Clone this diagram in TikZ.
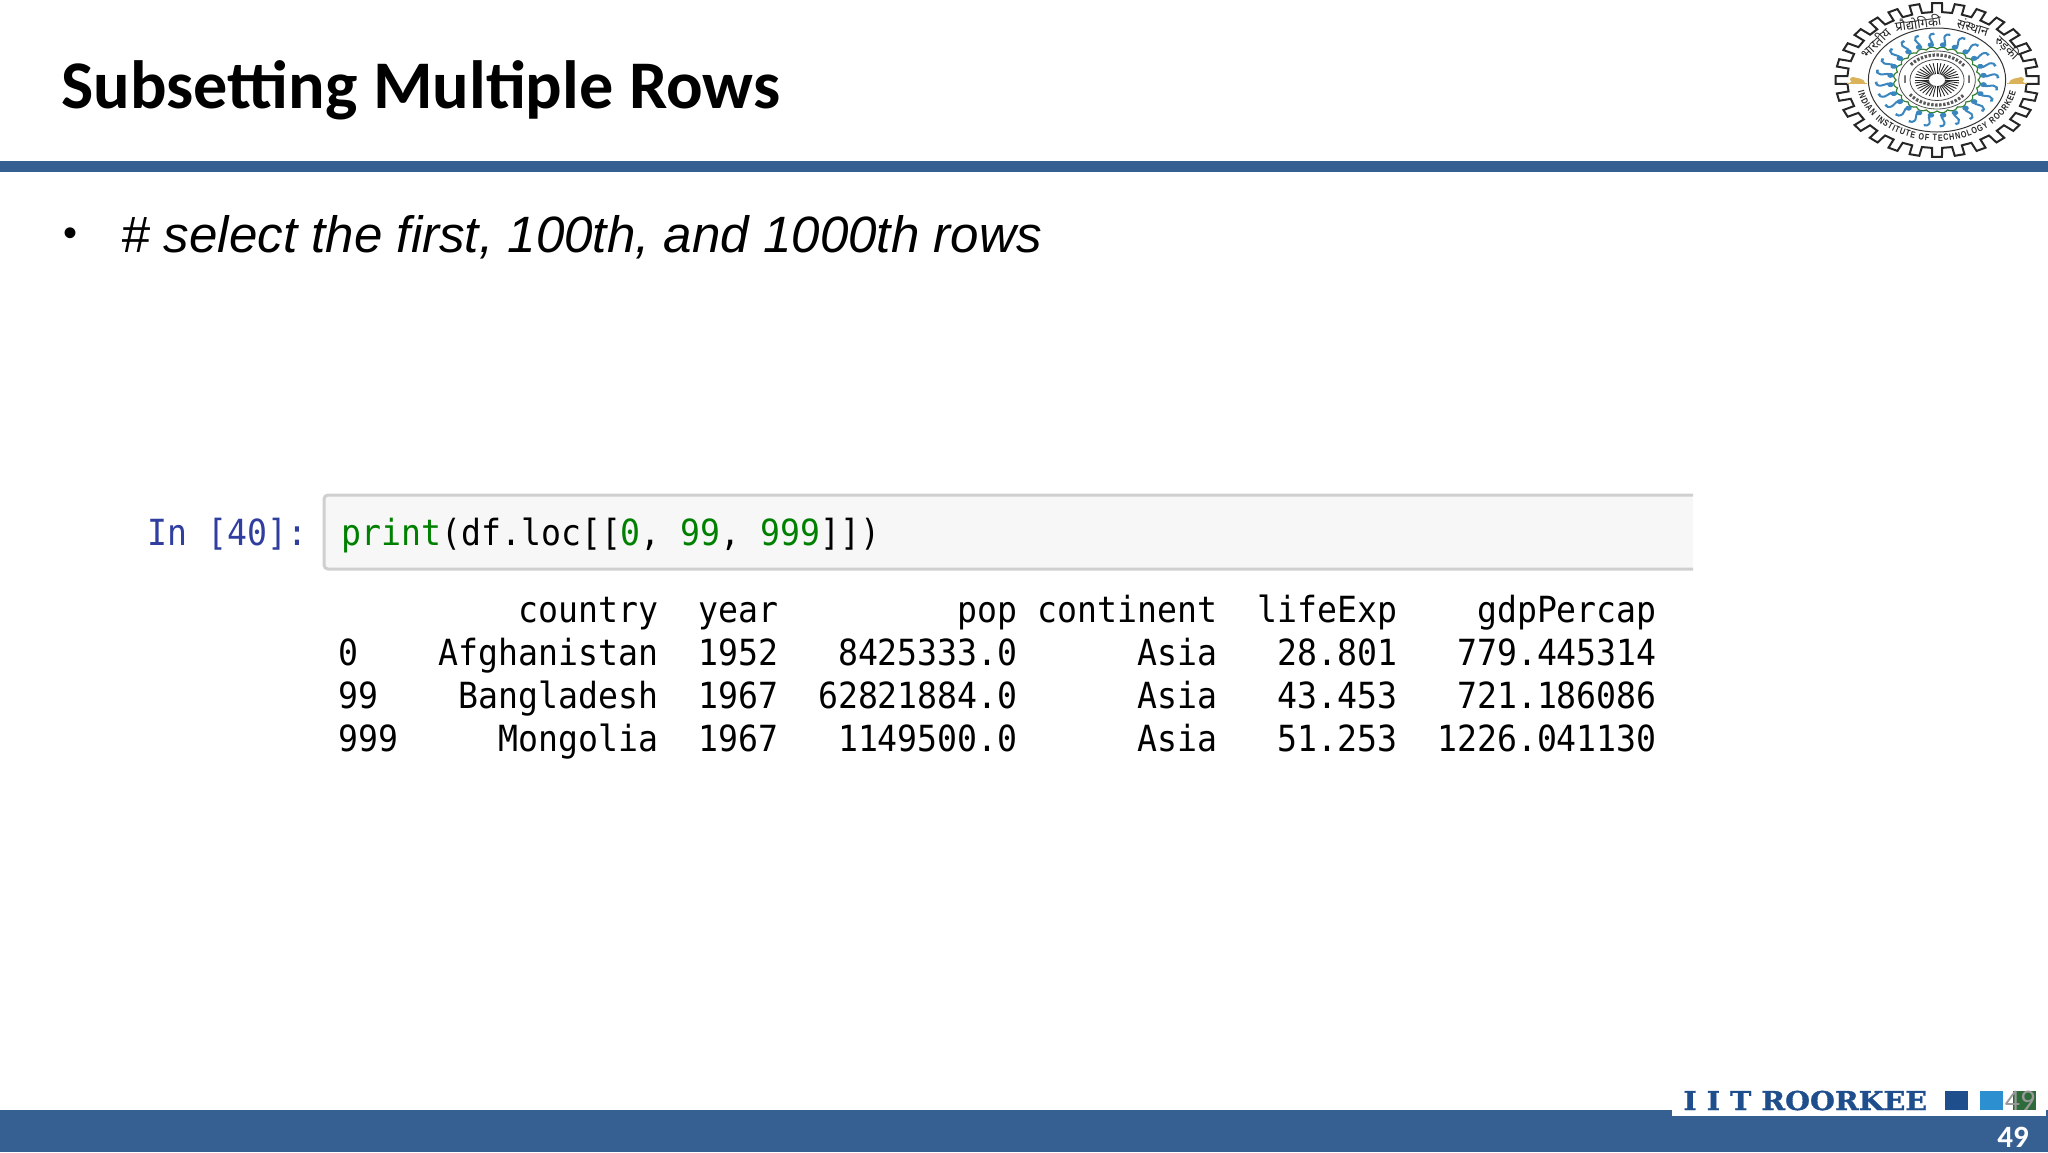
\documentclass[tikz,border=0pt]{standalone}
\usepackage{fontspec}
\usetikzlibrary{matrix, decorations.text}
\setmainfont{Carlito}
\newfontfamily\monofuente[FakeStretch=0.9214]{DejaVu Sans Mono}
\newfontfamily\arialfuente{Liberation Sans}
\newfontfamily\estrechafuente[FakeStretch=0.78]{Liberation Sans}
\newfontfamily\slabfuente[FakeStretch=1.1, FakeBold=1.2]{DejaVu Serif}
\newfontfamily\hindifuente[Script=Devanagari]{Noto Sans}
\definecolor{barra}{HTML}{376092}
\definecolor{celda}{HTML}{F7F7F7}
\definecolor{borde}{HTML}{CFCFCF}
\definecolor{prompt}{HTML}{303F9F}
\definecolor{verde}{HTML}{008000}
\definecolor{marca}{HTML}{1F4E8C}
\definecolor{celeste}{HTML}{2B8FD0}
\definecolor{bosque}{HTML}{2F6B3A}
\definecolor{remolino}{HTML}{3A86BE}
\definecolor{leon}{HTML}{D9B25A}
\tikzset{
    titulo/.style={anchor=base west, inner sep=0pt, font=\bfseries\fontsize{34.1}{34.1}\selectfont},
    vineta/.style={anchor=base west, inner sep=0pt, font=\arialfuente\itshape\fontsize{25.55}{25.55}\selectfont},
    codigo/.style={anchor=base west, inner sep=0pt, font=\monofuente\fontsize{18}{18}\selectfont},
    pagina/.style={anchor=base, inner sep=0pt, font=\fontsize{14.5}{14.5}\selectfont},
    cuadro/.style={minimum width=11.5pt, minimum height=9.5pt, inner sep=0pt, anchor=north west},
    hindi/.style={inner sep=0pt, text=black!85, font=\hindifuente\bfseries\fontsize{6.5}{6.5}\selectfont},
    engrane/.style={draw=black!85, line width=1pt, line join=miter},
    tabla/.style={matrix of nodes, anchor=north west, inner sep=0pt,
        row sep=2.5pt, column sep=19.97pt,
        nodes={anchor=base east, inner sep=0pt, text height=14pt, text depth=5pt,
            font=\monofuente\fontsize{18}{18}\selectfont},
        column 1/.style={nodes={anchor=base west}}}}
\newcommand{\verdetxt}[1]{\textcolor{verde}{#1}}
\begin{document}
\begin{tikzpicture}[x=0.5pt, y=-0.5pt]
    \useasboundingbox (0,0) rectangle (2048,1152);
    % barras
    \fill[barra] (0,161) rectangle (2048,172);
    \fill[barra] (0,1110) rectangle (2048,1152);
    \fill[white] (1672,1085) rectangle (2046,1116);
    % textos
    \node (tit) [titulo] at (61,108) {Subsetting Multiple Rows};
    \node (pun) [anchor=base west, inner sep=0pt, font=\arialfuente\fontsize{20}{20}\selectfont] at (63,246) {•};
    \node (sel) [vineta] at (121,252) {\# select the first, 100th, and 1000th rows};
    % celda
    \fill[celda, rounded corners=2pt] (324,495) rectangle (1693,570);
    \draw[borde, line width=1.5pt, rounded corners=2pt] (1693,495) -- (324,495) -- (324,569) -- (1693,569);
    \node (ent) [codigo, text=prompt, anchor=base east] at (308,545) {In [40]:};
    \node (cod) [codigo] at (341,545) {\verdetxt{print}(df.loc[[\verdetxt{0}, \verdetxt{99}, \verdetxt{999}]])};
    % salida
    \matrix (sal) [tabla] at (338,594) {
            & country & year & pop &[-9.985pt] continent & lifeExp & gdpPercap \\
        0   & Afghanistan & 1952 & 8425333.0 & Asia & 28.801 & 779.445314 \\
        99  & Bangladesh & 1967 & 62821884.0 & Asia & 43.453 & 721.186086 \\
        999 & Mongolia & 1967 & 1149500.0 & Asia & 51.253 & 1226.041130 \\
    };
    % pie
    \node (iit) [anchor=base west, inner sep=0pt, text=marca, font=\slabfuente\bfseries\fontsize{13}{13}\selectfont] at (1683,1110) {I I T ROORKEE};
    \node (az1) [cuadro, fill=marca] at (1945,1091) {};
    \node (az2) [cuadro, fill=celeste] at (1980,1091) {};
    \node (ver) [cuadro, fill=bosque] at (2013,1091) {};
    \node (gri) [pagina, text=black!40, font=\fontsize{15}{15}\selectfont] at (2020,1110) {49};
    \node (pag) [pagina, text=white, font=\bfseries\fontsize{15.5}{15.5}\selectfont] at (2013,1147) {49};
    % logo
    \begin{scope}[shift={(1937,80)}, xscale=1.32, yscale=-1]
        \draw[engrane] (-3.2:68) foreach \t in {0,...,27} {
            -- ({\t*12.857-3.2}:68) -- ({\t*12.857-2.8}:77) -- ({\t*12.857+2.8}:77) -- ({\t*12.857+3.2}:68)
        } -- cycle;
        \draw[black!80, line width=0.5pt] (0,0) circle (52);
        \draw[verde!60!gray, line width=0.6pt] plot[domain=0:360, samples=289] (\x:{31+2*abs(sin(12*\x))});
        \draw[black!70, line width=0.4pt] (0,0) circle (29) (0,0) circle (20.5);
        \foreach \a in {7.5,22.5,...,352.5} {
            \begin{scope}[rotate=\a]
                \fill[remolino] (0,35.5) circle (2.5);
                \draw[remolino, line width=1pt] (0,35.5) .. controls (4,38) and (-3,42) .. (1.5,46) .. controls (3,47) and (4,46) .. (3.5,45);
            \end{scope}
        }
        \draw[black!65, line width=1.6pt, dash pattern=on 1.2pt off 0.8pt] (0,0) ++(35:25) arc[start angle=35, end angle=145, radius=25];
        \draw[black!65, line width=1.6pt, dash pattern=on 1.2pt off 0.8pt] (0,0) ++(215:25) arc[start angle=215, end angle=325, radius=25];
        \foreach \a in {0,10,...,350}
            \draw[black!85, line width=0.45pt] (\a:6) -- (\a:17);
        \foreach \s/\n in {1/leod, -1/leoi} {
            \begin{scope}[shift={(\s*60.5,-1)}, xscale=\s]
                \fill[leon] (-7.5,-3) rectangle (7.5,-1.5);
                \fill[leon] (-6,-2) .. controls (-6,3) and (2,3) .. (3,4) arc[start angle=90, end angle=-60, radius=2.5] -- (6,-2) -- cycle;
            \end{scope}
        }
        \path[decorate, decoration={text along path, text align={fit to path},
            text={|\estrechafuente\bfseries\fontsize{4.6}{4.6}\selectfont\color{black!85}|INDIAN INSTITUTE OF TECHNOLOGY ROORKEE}}]
            (191:61) arc[start angle=191, end angle=349, radius=61];
    \end{scope}
    \node (is1) [inner sep=0pt, font=\fontsize{6}{6}\selectfont] at (1905,80) {I};
    \node (is2) [inner sep=0pt, font=\fontsize{6}{6}\selectfont] at (1969,80) {I};
    \node (hi1) [hindi, rotate=45] at (1875,43) {भारतीय};
    \node (hi2) [hindi, rotate=8] at (1918,23) {प्रौद्योगिकी};
    \node (hi3) [hindi, rotate=-18] at (1973,27) {संस्थान};
    \node (hi4) [hindi, rotate=-45] at (2007,48) {रुड़की};
\end{tikzpicture}
\end{document}
